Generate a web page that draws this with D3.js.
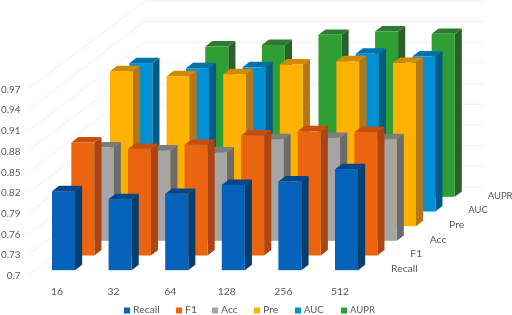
<!DOCTYPE html>
<html><head><meta charset="utf-8">
<script src="https://cdn.jsdelivr.net/npm/d3@7/dist/d3.min.js"></script>
<style>html,body{margin:0;padding:0;background:#fff}svg{display:block;filter:blur(0.35px)}text{font-family:Lato,"Open Sans",sans-serif;fill:#595959;font-size:10.4px}</style>
</head><body><svg id="c" width="512" height="315"></svg>
<script>
const categories = ["16","32","64","128","256","512"];
const seriesNames = ["Recall","F1","Acc","Pre","AUC","AUPR"];
const yTicks = [0.7,0.73,0.76,0.79,0.82,0.85,0.88,0.91,0.94,0.97];
const recall = [0.8145,0.803,0.8106,0.8236,0.8285,0.8464];
const f1     = [0.8638,0.8546,0.8604,0.8739,0.880,0.8787];
const acc    = [0.8352,0.8309,0.828,0.8474,0.8493,0.8474];
const pre    = [0.9246,0.9174,0.9203,0.9343,0.939,0.9367];
const auc    = [0.915,0.9077,0.909,0.79,0.9286,0.9246];
const aupr   = [0.76,0.9178,0.920,0.9348,0.9396,0.9362];
const seriesValues = [recall,f1,acc,pre,auc,aupr];
const faceColors = ["#0563bb","#eb640f","#a5a5a5","#fdb100","#0090d5","#2f9e33"];
const sideColors = ["#043f70","#ad4413","#6b6b6b","#b2771a","#045a87","#27622a"];
const topColors  = ["#04488a","#c94d10","#7c7c7c","#cf8b05","#0272a8","#2e7b30"];

const svg = d3.select("#c");
const h = d3.scaleLinear().domain([0.7,0.97]).range([0,186.3]);
const cx = d3.scaleLinear().domain([0,5]).range([52,335]);
const depthX = d3.scaleLinear().domain([0,6]).range([0,116]);
const depthY = d3.scaleLinear().domain([0,6]).range([0,-88]);
const wallX = 29, floorY = 275, wallRight = 484;
const barW = 23, depthFront = 0.33, depthBar = 0.37;
const capsSize = n => (n==="AUC"||n==="AUPR") ? "9.5px" : null;

const grid = svg.append("g").attr("fill","none").attr("stroke","#eeeeee").attr("stroke-width",1);
yTicks.forEach(t=>{
  const y = floorY - h(t);
  grid.append("path").attr("d",d3.line()([[wallX,y],[wallX+depthX(6),y+depthY(6)],[wallRight,y+depthY(6)]]));
});

const bars = svg.append("g");
d3.range(5,-1,-1).forEach(s=>{
  categories.forEach((c,i)=>{
    const dF = s+depthFront;
    const xf = cx(i)+depthX(s), yb = floorY+depthY(dF), yt = yb-h(seriesValues[s][i]);
    const dx = depthX(depthBar), dy = depthY(depthBar);
    const g = bars.append("g");
    g.append("path").attr("fill",sideColors[s]).attr("d",d3.line()([[xf+barW,yt],[xf+barW+dx,yt+dy],[xf+barW+dx,yb+dy],[xf+barW,yb]])+"Z");
    g.append("path").attr("fill",topColors[s]).attr("d",d3.line()([[xf,yt],[xf+dx,yt+dy],[xf+barW+dx,yt+dy],[xf+barW,yt]])+"Z");
    g.append("rect").attr("x",xf).attr("y",yt).attr("width",barW).attr("height",yb-yt).attr("fill",faceColors[s]);
  });
});

const yAxisScale = d3.scaleLinear().domain([0.7,0.97]).range([floorY,floorY-186.3]);
svg.append("g").selectAll("text").data(yTicks).join("text")
  .attr("x",20.5).attr("y",d=>yAxisScale(d)+4).attr("text-anchor","end").style("font-size","9.9px").text(d=>d);
svg.append("g").selectAll("text").data(categories).join("text")
  .attr("x",(d,i)=>cx(i)+5).attr("y",294.5).attr("text-anchor","middle").text(d=>d);
svg.append("g").selectAll("text").data(seriesNames).join("text")
  .attr("x",(d,i)=>391+depthX(i)).attr("y",(d,i)=>272+depthY(i)).style("font-size",capsSize).text(d=>d);
const legendX = [124,176,212,254,295,341];
const lg = svg.append("g");
seriesNames.forEach((n,i)=>{
  lg.append("rect").attr("x",legendX[i]).attr("y",307.5).attr("width",6).attr("height",6).attr("fill",faceColors[i]);
  lg.append("text").attr("x",legendX[i]+9).attr("y",312.7).style("font-size",capsSize(n)).text(n);
});
</script></body></html>
